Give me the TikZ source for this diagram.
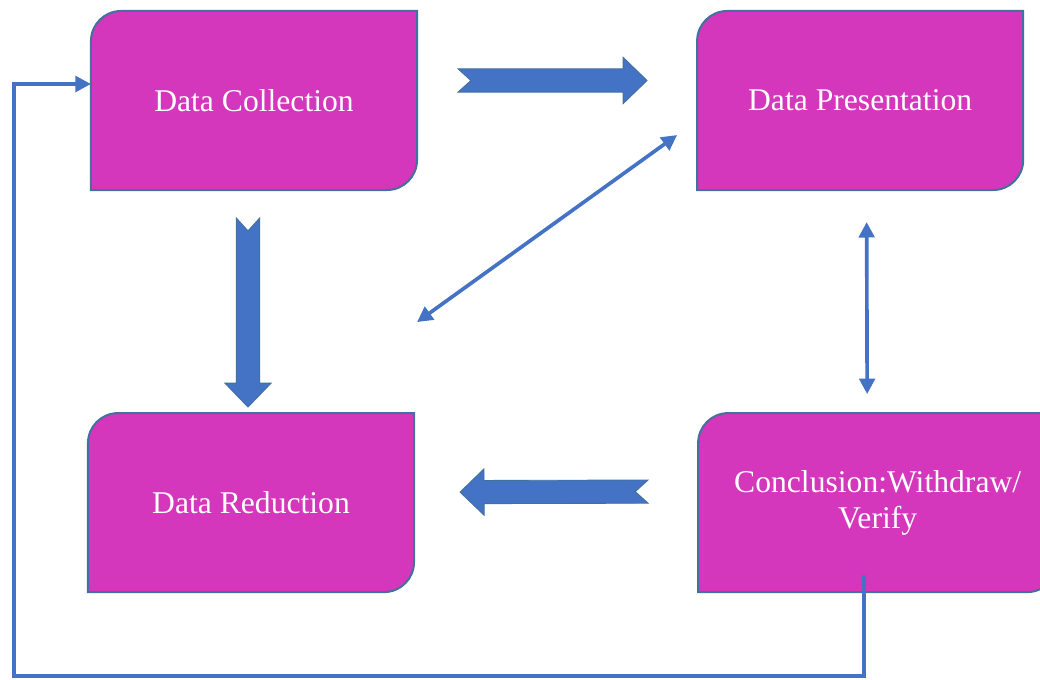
\documentclass[tikz,border=0pt]{standalone}
\usepackage{fontspec}
\setmainfont{Liberation Serif}
\usetikzlibrary{positioning,calc,arrows.meta,backgrounds}

\definecolor{boxfill}{HTML}{D436BC}
\definecolor{boxedge}{HTML}{41719C}
\definecolor{linkblue}{HTML}{4472C4}

\tikzset{
  stage/.style={minimum width=8.15cm,minimum height=4.475cm,inner sep=0pt,outer sep=0pt,
    align=center,text=white,font=\fontsize{22.5}{25.6}\selectfont},
  stageshape/.style={fill=boxfill,draw=boxedge,line width=1.4pt},
  link/.style={draw=linkblue,line width=2.6pt},
  fat/.style={fill=linkblue,draw=boxedge,line width=0.6pt},
}

% box with round top-left and bottom-right corners, drawn behind node #1
\newcommand\diagbox[1]{%
  \begin{pgfonlayer}{background}
    \draw[stageshape] (#1.south west) -- ([yshift=-0.75cm]#1.north west)
      arc[start angle=180,end angle=90,radius=0.75cm] -- (#1.north east)
      -- ([yshift=0.75cm]#1.south east)
      arc[start angle=0,end angle=-90,radius=0.75cm] -- cycle;
  \end{pgfonlayer}}

% block arrow with notched tail from #1 to #2
\newcommand\fatarrow[2]{%
  \coordinate (fb) at ($(#2)!0.6cm!(#1)$);
  \coordinate (fn) at ($(#1)!0.32cm!(#2)$);
  \draw[fat] ($(#1)!0.29cm!90:(#2)$) -- ($(fb)!0.29cm!-90:(#1)$)
    -- ($(fb)!0.58cm!-90:(#1)$) -- (#2) -- ($(fb)!0.58cm!90:(#1)$)
    -- ($(fb)!0.29cm!90:(#1)$) -- ($(#1)!0.29cm!-90:(#2)$) -- (fn) -- cycle;}

\begin{document}
\begin{tikzpicture}[x=0.025cm,y=-0.025cm,>={Triangle[length=11pt,width=11pt]}]
    \useasboundingbox (0,0) rectangle (1040,679);

    \node[stage] (coll) at (254,100.5) {Data Collection};
    \node[stage,right=7cm of coll] (pres) {Data Presentation};
    \node[stage,below=5.575cm of coll,xshift=-0.075cm] (red) {Data Reduction};
    \node[stage,minimum width=8.975cm,right=7.1cm of red] (concl) {Conclusion:Withdraw/\\Verify};

    \diagbox{coll}
    \diagbox{pres}
    \diagbox{red}
    \diagbox{concl}

    % block arrows
    \coordinate (collout) at ($(coll.east)+(41,-20)$);
    \coordinate (presin) at ($(pres.west)+(-50,-20)$);
    \coordinate (colldown) at ($(coll.south)+(-6,28)$);
    \coordinate (redin) at ($(red.north)+(-3,-6)$);
    \coordinate (conclout) at ($(concl.west)+(-50,-11)$);
    \coordinate (redside) at ($(red.east)+(46,-10.5)$);
    \fatarrow{collout}{presin}
    \fatarrow{colldown}{redin}
    \fatarrow{conclout}{redside}

    % thin links
    \draw[link,<->] ($(red.north east)+(3,-91)$) -- ($(pres.south west)+(-20,-55)$);
    \draw[link,<->] ($(pres.south)+(6.5,32)$) -- ($(concl.north)+(-10.5,-19)$);

    % feedback line
    \coordinate (loopstart) at ($(concl.south)+(-13.5,-17)$);
    \draw[link,->] (loopstart) -- ++(0,101) -| ($(coll.west)+(-77,-16.5)$) -- ($(coll.west)+(0,-16.5)$);
\end{tikzpicture}
\end{document}
